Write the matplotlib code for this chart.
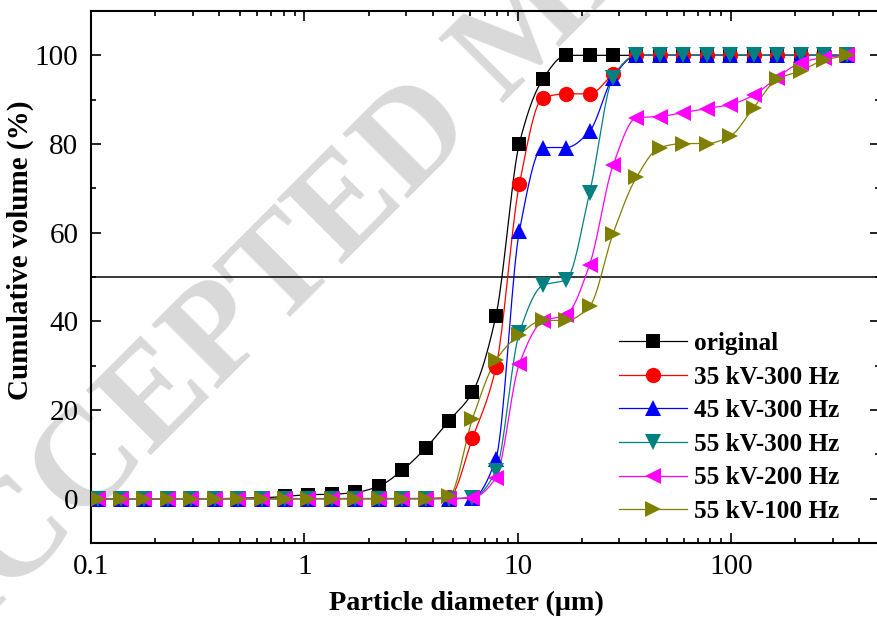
import numpy as np
import matplotlib
matplotlib.use("Agg")
import matplotlib.pyplot as plt
from matplotlib.lines import Line2D

plt.rcParams['font.family'] = ['Liberation Serif', 'DejaVu Serif']

# particle size bins (um)
diam = [0.1073, 0.1381, 0.1779, 0.2291, 0.2950, 0.3800, 0.4893, 0.6302, 0.8116,
        1.045, 1.346, 1.734, 2.233, 2.876, 3.703, 4.770, 6.142, 7.910, 10.19,
        13.12, 16.89, 21.76, 28.02, 36.08, 46.47, 59.84, 77.07, 99.24, 127.8,
        164.6, 212.0, 273.0, 351.6]

# cumulative volume (%)
original = [0, 0, 0, 0, 0, 0, 0.1, 0.2, 0.5, 0.9, 1.0, 1.4, 2.8, 6.4, 11.4, 17.6,
            24.0, 41.2, 80.1, 94.6, 100, 100, 100, 100, 100, 100, 100, 100, 100,
            100, 100, 100, 100]
kv35_300 = [0, 0, 0, 0, 0, 0, 0, 0, 0, 0, 0, 0, 0, 0, 0, 0.3, 13.6, 29.6, 70.9,
            90.4, 91.3, 91.3, 95.8, 100, 100, 100, 100, 100, 100, 100, 100, 100, 100]
kv45_300 = [0, 0, 0, 0, 0, 0, 0, 0, 0, 0, 0, 0, 0, 0, 0, 0, 0.2, 9.0, 60.3,
            79.2, 79.2, 82.9, 95.0, 100, 100, 100, 100, 100, 100, 100, 100, 100, 100]
kv55_300 = [0, 0, 0, 0, 0, 0, 0, 0, 0, 0, 0, 0, 0, 0, 0, 0, 0.2, 6.2, 37.4,
            48.1, 49.4, 69.0, 95.0, 100, 100, 100, 100, 100, 100, 100, 100, 100, 100]
kv55_200 = [0, 0, 0, 0, 0, 0, 0, 0, 0, 0, 0, 0, 0, 0, 0, 0, 0.2, 4.7, 30.4,
            40.0, 41.5, 52.8, 75.2, 85.9, 86.2, 87.1, 88.0, 88.9, 91.0, 95.0,
            98.3, 99.5, 100]
kv55_100 = [0, 0, 0, 0, 0, 0, 0, 0, 0, 0, 0, 0, 0, 0, 0, 0.5, 18.0, 31.2, 37.0,
            40.2, 40.2, 43.4, 59.8, 72.5, 79.2, 80.1, 80.1, 81.8, 88.2, 94.6,
            96.5, 98.9, 100]

labels = ['original', '35 kV-300 Hz', '45 kV-300 Hz', '55 kV-300 Hz',
          '55 kV-200 Hz', '55 kV-100 Hz']
series = [original, kv35_300, kv45_300, kv55_300, kv55_200, kv55_100]
colors = ['#000000', '#ff0000', '#0000ff', '#008080', '#ff00ff', '#808000']
markers = ['s', 'o', '^', 'v', '<', '>']
msizes = [9.5, 11, 12, 12, 12, 12]


def pchip(x, y, xn):
    # monotone cubic, just to get the smooth connecting curve
    x = np.asarray(x, float)
    y = np.asarray(y, float)
    h = np.diff(x)
    d = np.diff(y) / h
    m = np.zeros_like(y)
    m[0], m[-1] = d[0], d[-1]
    for k in range(1, len(x) - 1):
        if d[k - 1] * d[k] > 0:
            w1 = 2 * h[k] + h[k - 1]
            w2 = h[k] + 2 * h[k - 1]
            m[k] = (w1 + w2) / (w1 / d[k - 1] + w2 / d[k])
    idx = np.clip(np.searchsorted(x, xn) - 1, 0, len(x) - 2)
    t = (xn - x[idx]) / h[idx]
    h00 = 2 * t**3 - 3 * t**2 + 1
    h10 = t**3 - 2 * t**2 + t
    h01 = -2 * t**3 + 3 * t**2
    h11 = t**3 - t**2
    return h00 * y[idx] + h10 * h[idx] * m[idx] + h01 * y[idx + 1] + h11 * h[idx] * m[idx + 1]


fig = plt.figure(figsize=(8.77, 6.21), dpi=100)

# watermark, kept under the axes
fig.text(-0.072, -0.077, 'ACCEPTED MANUSCRIPT', fontsize=100, fontweight='bold',
         color='#d9d9d9', rotation=45, rotation_mode='anchor', ha='left',
         va='baseline', zorder=-5)

ax = fig.add_axes([91 / 877, 78 / 621, 789 / 877, 532 / 621])
ax.patch.set_alpha(0)

lx = np.log10(diam)
fine = np.linspace(lx[0], lx[-1], 600)
handles = []
for ys, c, mk, ms, lab in zip(series, colors, markers, msizes, labels):
    ax.plot(10**fine, pchip(lx, ys, fine), color=c, lw=0.9, zorder=2)
    ax.plot(diam, ys, ls='none', marker=mk, ms=ms, color=c, mec=c, mew=0, zorder=3)
    handles.append(Line2D([], [], color=c, lw=0.9, marker=mk, ms=ms, mew=0, label=lab))

ax.axhline(50, color='black', lw=1.1, zorder=1)

ax.set_xscale('log')
ax.set_xlim(0.1, 500)
ax.set_ylim(-10, 110)
ax.set_yticks([0, 20, 40, 60, 80, 100])
ax.set_yticks([-10, 10, 30, 50, 70, 90, 110], minor=True)
ax.set_xticks([0.1, 1, 10, 100])
ax.set_xticklabels(['0.1', '1', '10', '100'])

for s in ax.spines.values():
    s.set_linewidth(1.5)
ax.tick_params(which='both', direction='in', labelsize=21, top=True, right=True)
ax.tick_params(which='major', length=7, width=1.2)
ax.tick_params(which='minor', length=3.5, width=1.2)
ax.tick_params(axis='x', pad=8)
ax.tick_params(axis='y', pad=9)

ax.set_xlabel('Particle diameter (μm)', fontsize=20.3, fontweight='bold')
ax.set_ylabel('Cumulative volume (%)', fontsize=21, fontweight='bold')
ax.xaxis.set_label_coords((466 - 91) / 789, -0.09)
ax.yaxis.set_label_coords(-0.072, 0.55)

ax.legend(handles=handles, loc='upper left', bbox_to_anchor=(619 / 877, 1 - 332 / 621),
          bbox_transform=fig.transFigure, frameon=False, borderpad=0, borderaxespad=0,
          handlelength=2.7, handletextpad=0.25, labelspacing=0.42,
          prop={'family': 'Liberation Serif', 'weight': 'bold', 'size': 18.2})

fig.savefig('out.png', dpi=100)
